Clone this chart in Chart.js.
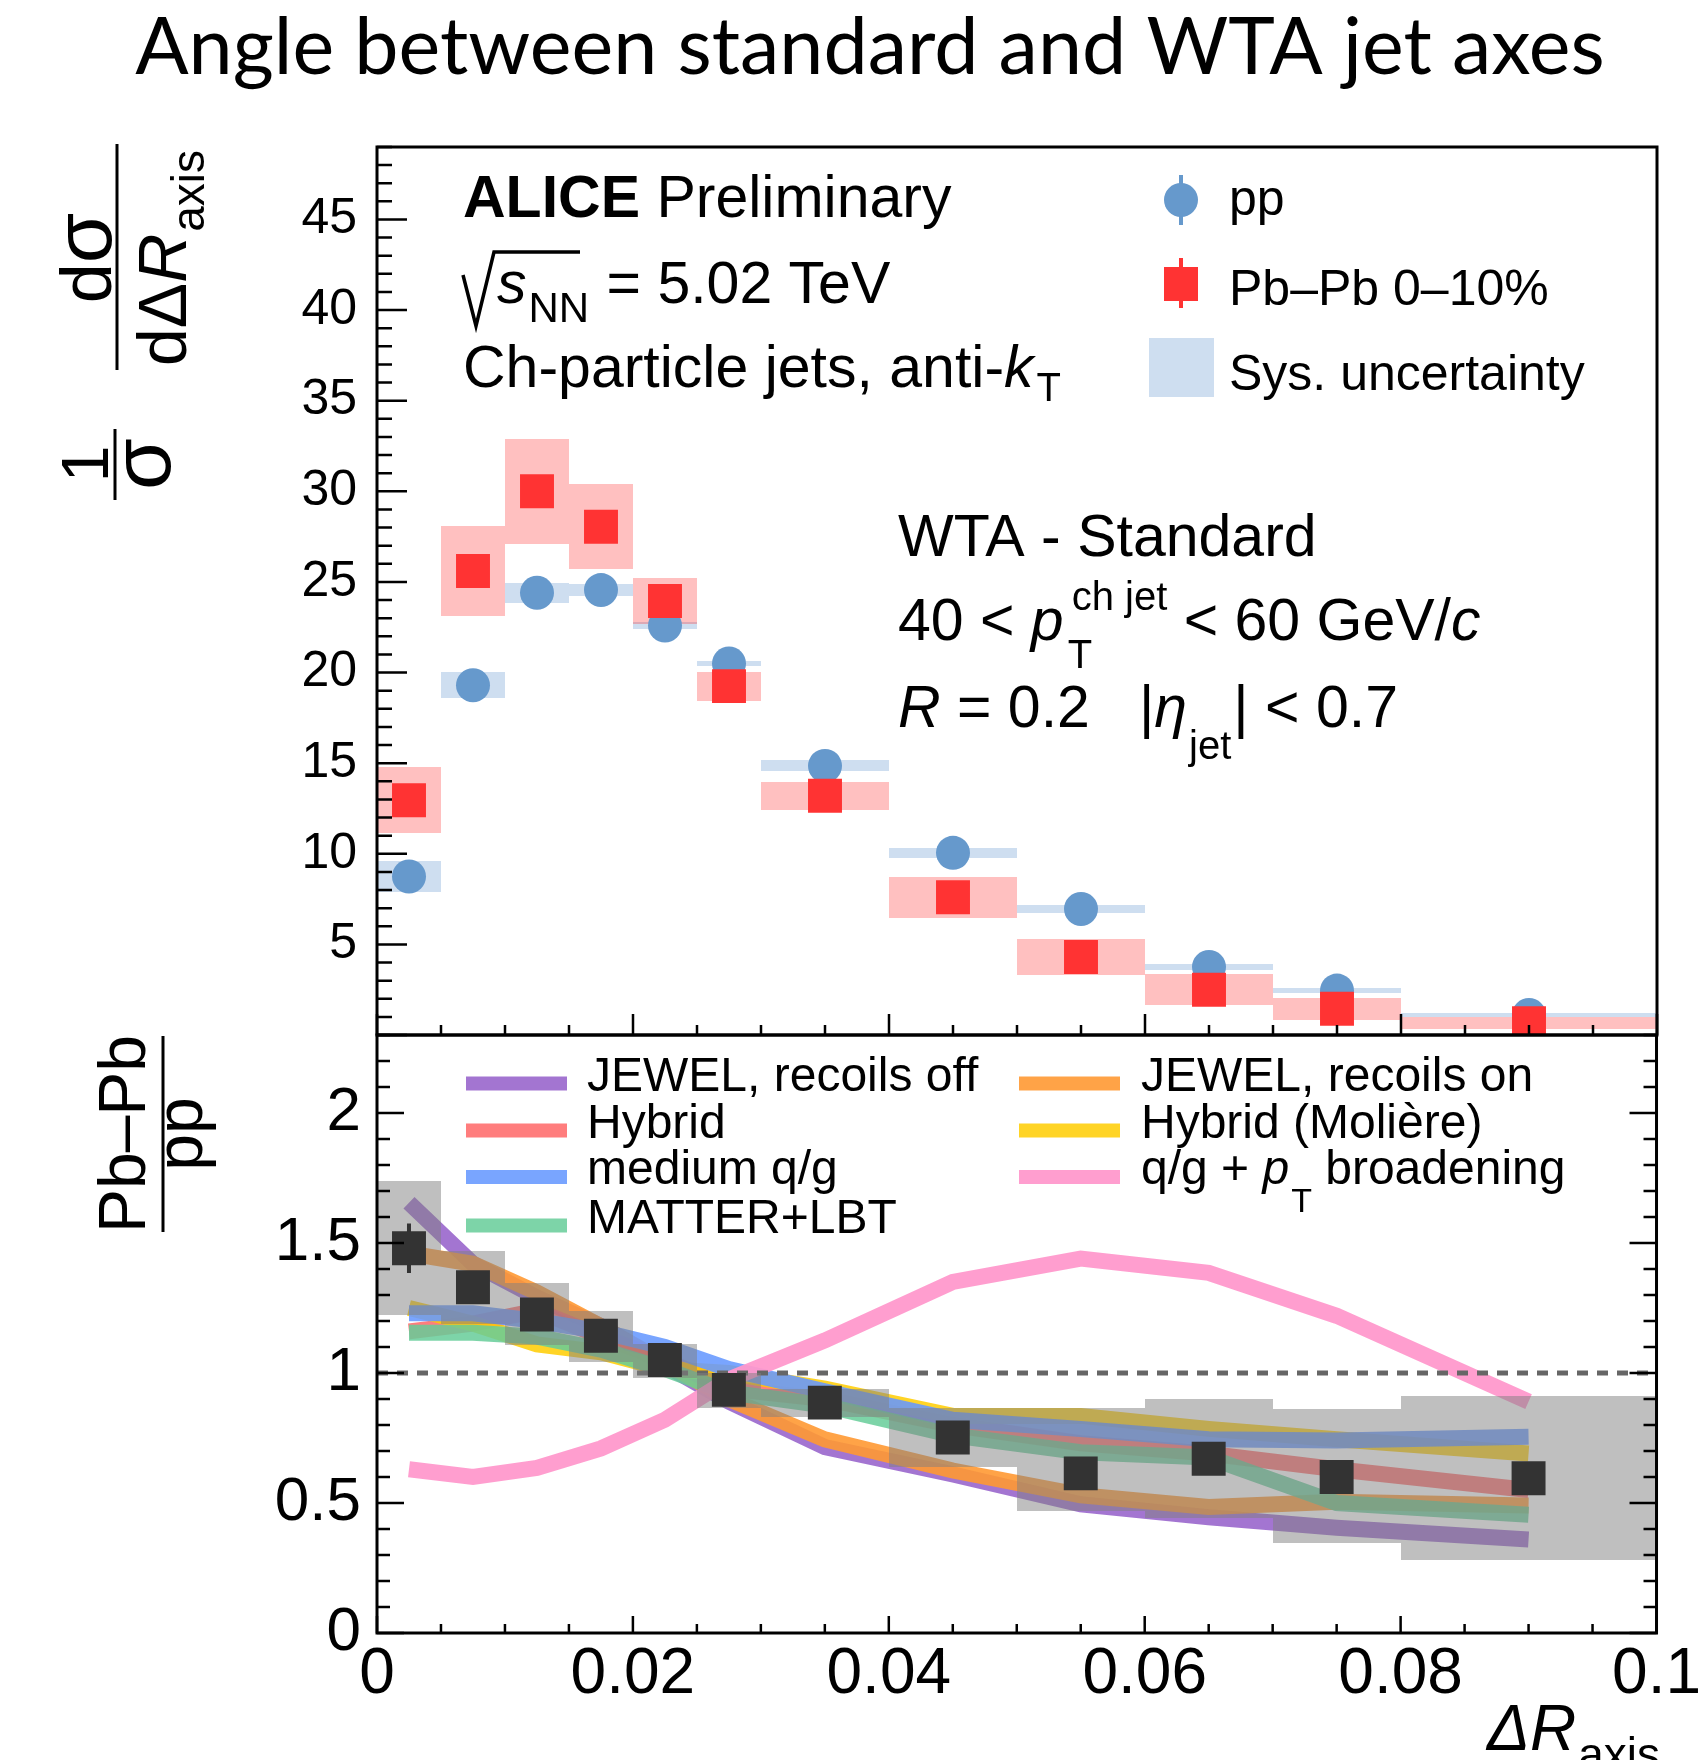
<!DOCTYPE html>
<html>
<head>
<meta charset="utf-8">
<title>Angle between standard and WTA jet axes</title>
<script src="https://cdn.jsdelivr.net/npm/chart.js@4.4.1/dist/chart.umd.min.js"></script>
<style>
  html, body { margin: 0; padding: 0; background: #fff; }
  #page { position: relative; width: 1705px; height: 1760px; overflow: hidden; background: #fff; }
  #page canvas { position: absolute; left: 0; top: 0; }
</style>
</head>
<body>
<div id="page">
  <canvas id="topPad" width="1705" height="1760"></canvas>
  <canvas id="ratioPad" width="1705" height="1760"></canvas>
</div>
<script>
// Binning in ΔR_axis
const binEdges = [0, 0.005, 0.01, 0.015, 0.02, 0.025, 0.03, 0.04, 0.05, 0.06, 0.07, 0.08, 0.1];
const binCenters = [0.0025, 0.0075, 0.0125, 0.0175, 0.0225, 0.0275, 0.035, 0.045, 0.055, 0.065, 0.075, 0.09];

// Upper pad: 1/sigma dsigma/dDeltaR
const ppValues = [8.75, 19.3, 24.4, 24.55, 22.6, 20.5, 14.85, 10.05, 6.95, 3.75, 2.45, 1.1];
const ppSys = [0.86, 0.72, 0.55, 0.35, 0.2, 0.15, 0.3, 0.28, 0.24, 0.18, 0.15, 0.1];
const pbpbValues = [12.95, 25.6, 30.0, 28.05, 23.95, 19.25, 13.2, 7.6, 4.3, 2.5, 1.45, 0.65];
const pbpbSys = [1.83, 2.5, 2.9, 2.35, 1.27, 0.8, 0.78, 1.14, 1.0, 0.85, 0.6, 0.34];

// Lower pad: Pb-Pb / pp
const ratioValues = [1.48, 1.33, 1.225, 1.143, 1.05, 0.935, 0.886, 0.752, 0.614, 0.67, 0.6, 0.595];
const ratioStat = [0.095, 0.03, 0.03, 0.03, 0.03, 0.03, 0.03, 0.03, 0.04, 0.05, 0.06, 0.06];
const ratioSysLow = [1.222, 1.19, 1.108, 1.044, 0.98, 0.865, 0.83, 0.639, 0.468, 0.442, 0.346, 0.28];
const ratioSysHigh = [1.74, 1.468, 1.347, 1.239, 1.11, 1.0, 0.94, 0.866, 0.866, 0.899, 0.86, 0.91];

// Model predictions (ratio)
const jewelOff = [1.655, 1.42, 1.29, 1.18, 1.03, 0.89, 0.715, 0.61, 0.495, 0.445, 0.405, 0.36];
const jewelOn = [1.46, 1.42, 1.31, 1.18, 1.04, 0.9, 0.745, 0.625, 0.53, 0.485, 0.505, 0.49];
const hybrid = [1.16, 1.19, 1.24, 1.14, 1.05, 0.94, 0.9, 0.8, 0.73, 0.69, 0.63, 0.55];
const hybridMoliere = [1.25, 1.19, 1.11, 1.08, 1.015, 1.0, 0.94, 0.835, 0.835, 0.785, 0.745, 0.69];
const mediumQG = [1.23, 1.23, 1.2, 1.16, 1.1, 1.015, 0.93, 0.82, 0.785, 0.745, 0.74, 0.755];
const matterLBT = [1.155, 1.155, 1.14, 1.09, 1.015, 0.925, 0.875, 0.76, 0.695, 0.675, 0.5, 0.455];
const qgBroadening = [0.63, 0.6, 0.635, 0.71, 0.82, 0.975, 1.125, 1.35, 1.44, 1.385, 1.22, 0.89];

// Tick labels
const xTickValues = [0, 0.02, 0.04, 0.06, 0.08, 0.1];
const xTickLabels = ['0', '0.02', '0.04', '0.06', '0.08', '0.1'];
const upperYTickValues = [5, 10, 15, 20, 25, 30, 35, 40, 45];
const ratioYTickValues = [0, 0.5, 1, 1.5, 2];
const ratioYTickLabels = ['0', '0.5', '1', '1.5', '2'];

const FONT = '"Liberation Sans", Arial, sans-serif';
const ppColor = '#6699cc';
const pbpbColor = '#ff3333';

const models = [
    { label: 'q/g + pT broadening', values: qgBroadening, color: 'rgba(255,153,204,0.95)' },
    { label: 'MATTER+LBT', values: matterLBT, color: 'rgba(102,204,153,0.85)' },
    { label: 'medium q/g', values: mediumQG, color: 'rgba(102,153,255,0.88)' },
    { label: 'Hybrid (Molière)', values: hybridMoliere, color: 'rgba(255,204,0,0.85)' },
    { label: 'Hybrid', values: hybrid, color: 'rgba(255,102,102,0.85)' },
    { label: 'JEWEL, recoils on', values: jewelOn, color: 'rgba(255,153,51,0.9)' },
    { label: 'JEWEL, recoils off', values: jewelOff, color: 'rgba(153,102,204,0.9)' }
];

Chart.defaults.font.family = FONT;
Chart.defaults.color = '#000';

const toPoints = values => binCenters.map((x, i) => ({ x, y: values[i] }));

function font(size, style) {
    return `${style || ''} ${size}px ${FONT}`.trim();
}

// Draw a row of text pieces; pieces can shift baseline (dy) or not advance (stay)
function richText(ctx, x, y, pieces, align) {
    let width = 0;
    pieces.forEach(p => {
        ctx.font = font(p.size, p.style);
        p.w = ctx.measureText(p.text).width;
        width += (p.gap || 0) + (p.stay ? 0 : p.w);
    });
    let cx = align === 'center' ? x - width / 2 : x;
    ctx.textAlign = 'left';
    ctx.textBaseline = 'alphabetic';
    pieces.forEach(p => {
        cx += p.gap || 0;
        ctx.font = font(p.size, p.style);
        ctx.fillText(p.text, cx, y + (p.dy || 0));
        if (!p.stay) cx += p.w;
    });
}

// Text turned by -90 degrees, x is the baseline position
function rotatedText(ctx, x, y, pieces) {
    ctx.save();
    ctx.translate(x, y);
    ctx.rotate(-Math.PI / 2);
    richText(ctx, 0, 0, pieces, 'center');
    ctx.restore();
}

function line(ctx, x0, y0, x1, y1) {
    ctx.beginPath();
    ctx.moveTo(x0, y0);
    ctx.lineTo(x1, y1);
    ctx.stroke();
}

function clipArea(chart) {
    const a = chart.chartArea;
    chart.ctx.beginPath();
    chart.ctx.rect(a.left, a.top, a.right - a.left, a.bottom - a.top);
    chart.ctx.clip();
}

function fillBin(ctx, x, y, i, lo, hi) {
    const x0 = Math.round(x.getPixelForValue(binEdges[i]));
    const x1 = Math.round(x.getPixelForValue(binEdges[i + 1]));
    const y0 = Math.round(y.getPixelForValue(hi));
    const y1 = Math.round(y.getPixelForValue(lo));
    ctx.fillRect(x0, y0, x1 - x0, y1 - y0);
}

// Frame with ROOT style inward ticks
const frameTicks = {
    id: 'frameTicks',
    afterDatasetsDraw(chart, args, o) {
        const { ctx, chartArea: a, scales: { x, y } } = chart;
        ctx.save();
        ctx.strokeStyle = '#000';
        ctx.lineWidth = 2.5;
        ctx.beginPath();
        for (let i = 0; i * o.xStep <= x.max + 1e-9; i++) {
            const px = x.getPixelForValue(i * o.xStep);
            const len = i % o.xEvery === 0 ? o.xLong : o.xShort;
            ctx.moveTo(px, a.bottom);
            ctx.lineTo(px, a.bottom - len);
        }
        for (let i = 0; i * o.yStep <= y.max + 1e-9; i++) {
            const py = y.getPixelForValue(i * o.yStep);
            const len = i % o.yEvery === 0 ? o.yLong : o.yShort;
            ctx.moveTo(a.left, py);
            ctx.lineTo(a.left + len, py);
            if (o.right) {
                ctx.moveTo(a.right, py);
                ctx.lineTo(a.right - len, py);
            }
        }
        ctx.stroke();
        ctx.lineWidth = 3;
        ctx.strokeRect(a.left, a.top, a.right - a.left, a.bottom - a.top);
        ctx.restore();
    }
};

// Systematic boxes for the spectra
const spectraSys = {
    id: 'spectraSys',
    beforeDatasetsDraw(chart) {
        const { ctx, scales: { x, y } } = chart;
        ctx.save();
        clipArea(chart);
        ctx.fillStyle = '#cedef0';
        ppValues.forEach((v, i) => fillBin(ctx, x, y, i, v - ppSys[i], v + ppSys[i]));
        ctx.fillStyle = 'rgba(255,51,51,0.31)';
        pbpbValues.forEach((v, i) => fillBin(ctx, x, y, i, v - pbpbSys[i], v + pbpbSys[i]));
        ctx.restore();
    }
};

const spectraText = {
    id: 'spectraText',
    afterDraw(chart) {
        const ctx = chart.ctx;
        ctx.save();
        ctx.fillStyle = '#000';
        ctx.strokeStyle = '#000';

        ctx.font = '79px Lato';
        ctx.textAlign = 'center';
        ctx.textBaseline = 'alphabetic';
        ctx.fillText('Angle between standard and WTA jet axes', 870, 74);

        richText(ctx, 463, 217, [{ text: 'ALICE', size: 59, style: 'bold' }, { text: ' Preliminary', size: 59 }]);
        ctx.lineWidth = 3.5;
        ctx.beginPath();
        ctx.moveTo(463, 275);
        ctx.lineTo(476, 326);
        ctx.lineTo(494, 252);
        ctx.lineTo(580, 252);
        ctx.stroke();
        richText(ctx, 497, 303, [
            { text: 's', size: 59, style: 'italic' },
            { text: 'NN', size: 42, dy: 19, gap: 2 },
            { text: ' = 5.02 TeV', size: 59, gap: 1 }
        ]);
        richText(ctx, 463, 387, [
            { text: 'Ch-particle jets, anti-', size: 59 },
            { text: 'k', size: 59, style: 'italic' },
            { text: 'T', size: 40, dy: 14, gap: 3 }
        ]);
        richText(ctx, 898, 556, [{ text: 'WTA - Standard', size: 59 }]);
        richText(ctx, 898, 640, [
            { text: '40 < ', size: 59 },
            { text: 'p', size: 59, style: 'italic' },
            { text: 'T', size: 40, dy: 28, gap: 4, stay: true },
            { text: 'ch jet', size: 40, dy: -30, gap: 4 },
            { text: ' < 60 GeV/', size: 59 },
            { text: 'c', size: 59, style: 'italic' }
        ]);
        richText(ctx, 898, 727, [
            { text: 'R', size: 59, style: 'italic' },
            { text: ' = 0.2   |', size: 59 },
            { text: 'η', size: 59, style: 'italic' },
            { text: 'jet', size: 40, dy: 32, gap: 2 },
            { text: '| < 0.7', size: 59, gap: 2 }
        ]);

        // legend
        ctx.strokeStyle = ppColor;
        ctx.fillStyle = ppColor;
        ctx.lineWidth = 4;
        line(ctx, 1181, 175, 1181, 225);
        ctx.beginPath();
        ctx.arc(1181, 200, 17, 0, Math.PI * 2);
        ctx.fill();
        ctx.strokeStyle = pbpbColor;
        ctx.fillStyle = pbpbColor;
        line(ctx, 1181, 258, 1181, 308);
        ctx.fillRect(1164, 267, 34, 34);
        ctx.fillStyle = '#cedef0';
        ctx.fillRect(1149, 338, 65, 59);
        ctx.fillStyle = '#000';
        richText(ctx, 1229, 215, [{ text: 'pp', size: 50 }]);
        richText(ctx, 1229, 305, [{ text: 'Pb–Pb 0–10%', size: 50 }]);
        richText(ctx, 1229, 390, [{ text: 'Sys. uncertainty', size: 50 }]);

        // y title
        ctx.lineWidth = 3;
        ctx.strokeStyle = '#000';
        rotatedText(ctx, 111, 258, [{ text: 'd', size: 72 }, { text: 'σ', size: 82 }]);
        line(ctx, 117, 144, 117, 370);
        rotatedText(ctx, 186, 258, [
            { text: 'dΔ', size: 68 },
            { text: 'R', size: 68, style: 'italic' },
            { text: 'axis', size: 46, dy: 18, gap: 2 }
        ]);
        rotatedText(ctx, 108, 464, [{ text: '1', size: 66 }]);
        line(ctx, 115, 429, 115, 500);
        rotatedText(ctx, 170, 464, [{ text: 'σ', size: 84 }]);
        ctx.restore();
    }
};

// Ratio pad: grey systematic boxes and stat bars go just under the data markers
const ratioSys = {
    id: 'ratioSys',
    beforeDatasetDraw(chart, args) {
        if (args.index !== 0) return;
        const { ctx, scales: { x, y } } = chart;
        ctx.save();
        clipArea(chart);
        ctx.fillStyle = 'rgba(128,128,128,0.5)';
        ratioValues.forEach((v, i) => fillBin(ctx, x, y, i, ratioSysLow[i], ratioSysHigh[i]));
        ctx.strokeStyle = '#333333';
        ctx.lineWidth = 4;
        ratioValues.forEach((v, i) => {
            const px = x.getPixelForValue(binCenters[i]);
            line(ctx, px, y.getPixelForValue(v - ratioStat[i]), px, y.getPixelForValue(v + ratioStat[i]));
        });
        ctx.restore();
    }
};

const ratioText = {
    id: 'ratioText',
    afterDraw(chart) {
        const ctx = chart.ctx;
        ctx.save();
        const col1 = ['JEWEL, recoils off', 'Hybrid', 'medium q/g', 'MATTER+LBT'];
        const col2 = ['JEWEL, recoils on', 'Hybrid (Molière)', 'q/g + pT broadening'];
        const rows = [1083.5, 1130.5, 1177, 1225.5];
        const colorOf = label => models.find(m => m.label === label).color;
        col1.forEach((label, i) => {
            ctx.fillStyle = colorOf(label);
            ctx.fillRect(466, rows[i] - 7, 101, 14);
            ctx.fillStyle = '#000';
            richText(ctx, 587, rows[i] + 7, [{ text: label, size: 48 }]);
        });
        col2.forEach((label, i) => {
            ctx.fillStyle = colorOf(label);
            ctx.fillRect(1019, rows[i] - 7, 101, 14);
            ctx.fillStyle = '#000';
            if (label.startsWith('q/g')) {
                richText(ctx, 1141, rows[i] + 7, [
                    { text: 'q/g + ', size: 48 },
                    { text: 'p', size: 48, style: 'italic' },
                    { text: 'T', size: 34, dy: 28, gap: 2 },
                    { text: ' broadening', size: 48 }
                ]);
            } else {
                richText(ctx, 1141, rows[i] + 7, [{ text: label, size: 48 }]);
            }
        });

        // axis titles
        ctx.fillStyle = '#000';
        ctx.strokeStyle = '#000';
        ctx.lineWidth = 3;
        rotatedText(ctx, 145, 1134, [{ text: 'Pb–Pb', size: 66 }]);
        line(ctx, 163, 1036, 163, 1232);
        rotatedText(ctx, 202, 1134, [{ text: 'pp', size: 66 }]);
        richText(ctx, 1487, 1750, [
            { text: 'ΔR', size: 64, style: 'italic' },
            { text: 'axis', size: 46, dy: 20, gap: 2 }
        ]);
        ctx.restore();
    }
};

new Chart(document.getElementById('topPad'), {
    type: 'scatter',
    data: {
        datasets: [
            { label: 'Pb–Pb 0–10%', data: toPoints(pbpbValues), pointStyle: 'rect', pointRadius: 24, backgroundColor: pbpbColor, borderWidth: 0, order: 0 },
            { label: 'pp', data: toPoints(ppValues), pointStyle: 'circle', pointRadius: 17, backgroundColor: ppColor, borderWidth: 0, order: 1 }
        ]
    },
    options: {
        responsive: false,
        animation: false,
        devicePixelRatio: 1,
        events: [],
        layout: { padding: { left: 0, top: 147, right: 48, bottom: 725 } },
        plugins: {
            legend: { display: false },
            tooltip: { enabled: false },
            frameTicks: { xStep: 0.005, xEvery: 4, xLong: 21, xShort: 10, yStep: 1, yEvery: 5, yLong: 30, yShort: 15, right: false }
        },
        scales: {
            x: { type: 'linear', min: 0, max: 0.1, display: false },
            y: {
                type: 'linear', min: 0, max: 49,
                afterFit: s => { s.width = 377; },
                afterBuildTicks: s => { s.ticks = upperYTickValues.map(v => ({ value: v })); },
                ticks: { callback: v => String(v), font: { size: 50 }, color: '#000', padding: 20, autoSkip: false },
                grid: { display: false, drawTicks: false },
                border: { display: false }
            }
        }
    },
    plugins: [spectraSys, frameTicks, spectraText]
});

new Chart(document.getElementById('ratioPad'), {
    type: 'scatter',
    data: {
        datasets: [
            { label: 'ratio', data: toPoints(ratioValues), pointStyle: 'rect', pointRadius: 24, backgroundColor: '#333333', borderWidth: 0, order: 0 },
            { label: 'unity', data: [{ x: 0, y: 1 }, { x: 0.1, y: 1 }], showLine: true, borderColor: '#666666', borderWidth: 5, borderDash: [11, 9], pointRadius: 0, order: 1 },
            ...models.map((m, i) => ({
                label: m.label, data: toPoints(m.values), showLine: true, borderColor: m.color,
                borderWidth: 16, pointRadius: 0, order: 2 + i
            }))
        ]
    },
    options: {
        responsive: false,
        animation: false,
        devicePixelRatio: 1,
        events: [],
        layout: { padding: { left: 0, top: 1035, right: 48, bottom: 27 } },
        plugins: {
            legend: { display: false },
            tooltip: { enabled: false },
            frameTicks: { xStep: 0.005, xEvery: 4, xLong: 17, xShort: 9, yStep: 0.1, yEvery: 5, yLong: 27, yShort: 13, right: true }
        },
        scales: {
            x: {
                type: 'linear', min: 0, max: 0.1,
                afterFit: s => { s.height = 100; },
                afterBuildTicks: s => { s.ticks = xTickValues.map(v => ({ value: v })); },
                ticks: { callback: (v, i) => xTickLabels[i], font: { size: 64 }, color: '#000', padding: 4, autoSkip: false, maxRotation: 0 },
                grid: { display: false, drawTicks: false },
                border: { display: false }
            },
            y: {
                type: 'linear', min: 0, max: 2.3,
                afterFit: s => { s.width = 377; },
                afterBuildTicks: s => { s.ticks = ratioYTickValues.map(v => ({ value: v })); },
                ticks: { callback: (v, i) => ratioYTickLabels[i], font: { size: 62 }, color: '#000', padding: 16, autoSkip: false },
                grid: { display: false, drawTicks: false },
                border: { display: false }
            }
        }
    },
    plugins: [ratioSys, frameTicks, ratioText]
});
</script>
</body>
</html>
